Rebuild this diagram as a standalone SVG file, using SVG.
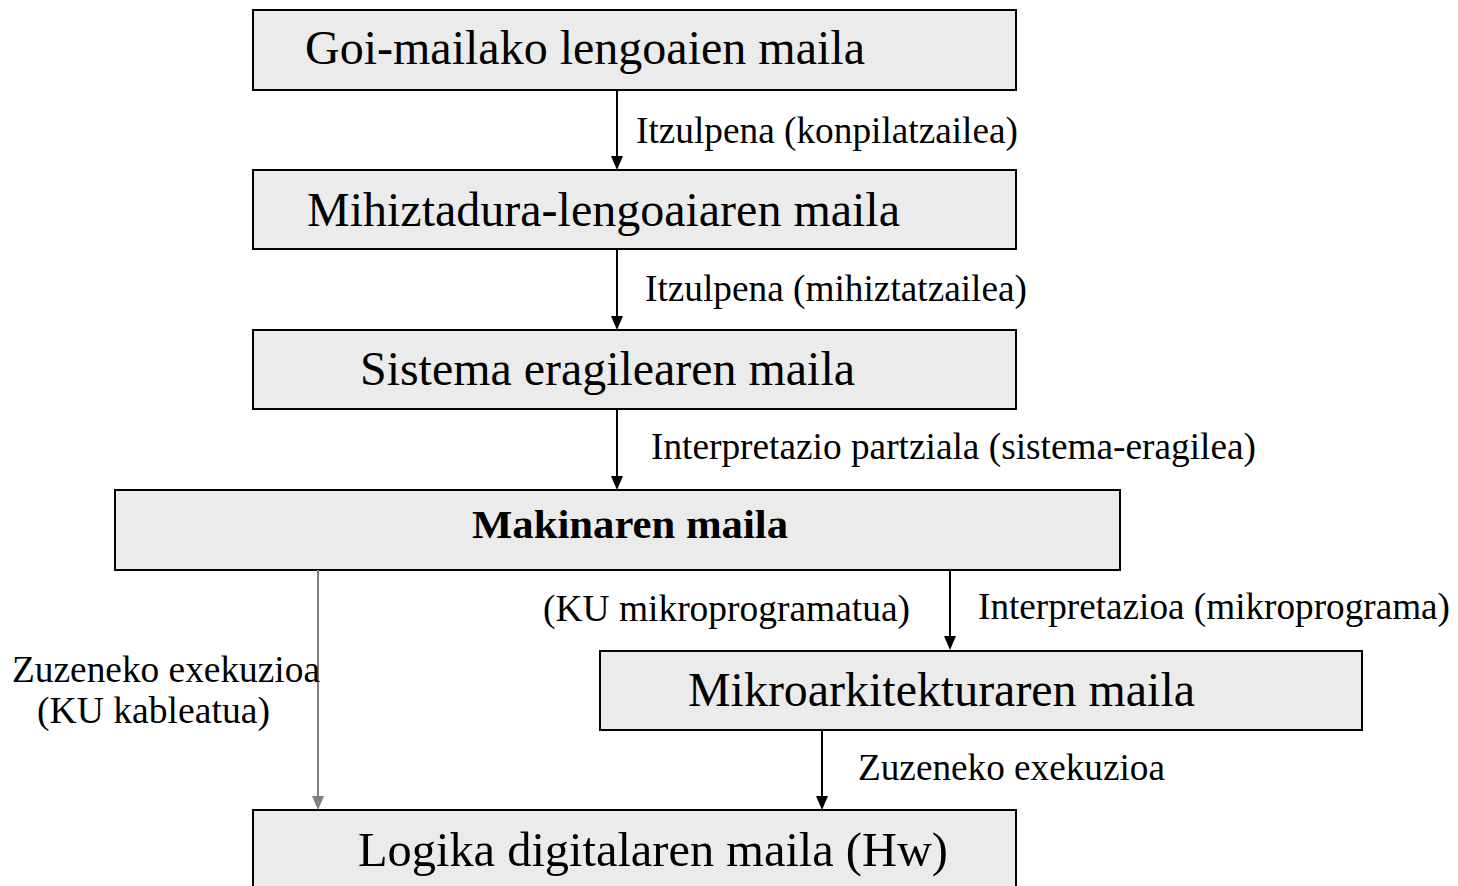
<svg xmlns="http://www.w3.org/2000/svg" width="1458" height="886" viewBox="0 0 1458 886">
<style>
.box{fill:#ebebeb;stroke:#000;stroke-width:2}
.t{font-family:"Liberation Serif",serif;font-size:48px;fill:#000}
.b{font-family:"Liberation Serif",serif;font-size:41px;font-weight:bold;fill:#000}
.l{font-family:"Liberation Serif",serif;font-size:37px;fill:#000}
.c{stroke:#000;stroke-width:2;fill:none}
.g{stroke:#808080;stroke-width:2;fill:none}
</style>
<rect width="1458" height="886" fill="#fff"/>
<g id="n1"><rect class="box" x="253" y="10" width="763" height="80"/><text class="t" x="305" y="64" textLength="560" lengthAdjust="spacingAndGlyphs">Goi-mailako lengoaien maila</text></g>
<g id="n2"><rect class="box" x="253" y="170" width="763" height="79"/><text class="t" x="307" y="226" textLength="593" lengthAdjust="spacingAndGlyphs">Mihiztadura-lengoaiaren maila</text></g>
<g id="n3"><rect class="box" x="253" y="330" width="763" height="79"/><text class="t" x="360" y="385" textLength="495" lengthAdjust="spacingAndGlyphs">Sistema eragilearen maila</text></g>
<g id="n4"><rect class="box" x="115" y="490" width="1005" height="80"/><text class="b" x="472" y="538" textLength="316" lengthAdjust="spacingAndGlyphs">Makinaren maila</text></g>
<g id="n5"><rect class="box" x="600" y="651" width="762" height="79"/><text class="t" x="688" y="706" textLength="507" lengthAdjust="spacingAndGlyphs">Mikroarkitekturaren maila</text></g>
<g id="n6"><rect class="box" x="253" y="810" width="763" height="90"/><text class="t" x="358" y="866" textLength="590" lengthAdjust="spacingAndGlyphs">Logika digitalaren maila (Hw)</text></g>
<g id="connectors">
<path class="c" d="M617,90 V158"/><path d="M611,156 L623,156 L617,170 Z"/>
<path class="c" d="M617,250 V318"/><path d="M611,316 L623,316 L617,330 Z"/>
<path class="c" d="M617,410 V478"/><path d="M611,476 L623,476 L617,490 Z"/>
<path class="c" d="M950,570 V638"/><path d="M944,636 L956,636 L950,650 Z"/>
<path class="c" d="M822,730 V798"/><path d="M816,796 L828,796 L822,810 Z"/>
<path class="g" d="M318,570 V798"/><path d="M312,796 L324,796 L318,810 Z" fill="#808080"/>
</g>
<g id="labels">
<text class="l" x="636" y="143" textLength="382" lengthAdjust="spacingAndGlyphs">Itzulpena (konpilatzailea)</text>
<text class="l" x="645" y="301" textLength="382" lengthAdjust="spacingAndGlyphs">Itzulpena (mihiztatzailea)</text>
<text class="l" x="651" y="459" textLength="605" lengthAdjust="spacingAndGlyphs">Interpretazio partziala (sistema-eragilea)</text>
<text class="l" x="543" y="621" textLength="367" lengthAdjust="spacingAndGlyphs">(KU mikroprogramatua)</text>
<text class="l" x="978" y="619" textLength="472" lengthAdjust="spacingAndGlyphs">Interpretazioa (mikroprograma)</text>
<text class="l" x="12" y="682" textLength="308" lengthAdjust="spacingAndGlyphs">Zuzeneko exekuzioa</text>
<text class="l" x="37" y="723" textLength="233" lengthAdjust="spacingAndGlyphs">(KU kableatua)</text>
<text class="l" x="858" y="780" textLength="307" lengthAdjust="spacingAndGlyphs">Zuzeneko exekuzioa</text>
</g>
</svg>
